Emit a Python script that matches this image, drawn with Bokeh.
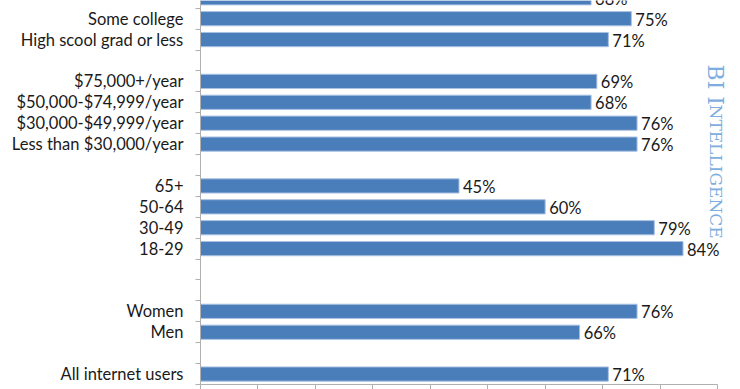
import math
from bokeh.plotting import figure
from bokeh.models import ColumnDataSource, FixedTicker, Label, Range1d
from bokeh.core.properties import value
from bokeh.embed import file_html
from bokeh.resources import INLINE

# Data (top to bottom as shown; empty strings are spacer rows)
categories = ["College+", "Some college", "High scool grad or less", "",
              "$75,000+/year", "$50,000-$74,999/year", "$30,000-$49,999/year",
              "Less than $30,000/year", "",
              "65+", "50-64", "30-49", "18-29", "", "",
              "Women", "Men", "", "All internet users"]
percent = [68, 75, 71, None, 69, 68, 76, 76, None, 45, 60, 79, 84, None, None,
           76, 66, None, 71]
x_ticks = [0, 10, 20, 30, 40, 50, 60, 70, 80, 90]

n = len(categories)
ypos = [n - i for i in range(n)]
bar_y = [y for y, v in zip(ypos, percent) if v is not None]
bar_v = [v for v in percent if v is not None]
bar_t = ["%d%%" % v for v in bar_v]
src = ColumnDataSource(dict(y=bar_y, v=bar_v, t=bar_t))

FONT = "Lato"
FS = "16.5px"
PX_PER_UNIT = 517 / 90.0
FRAME_W = 537
p = figure(frame_width=FRAME_W, frame_height=384, min_border_left=200,
           min_border_right=3, min_border_top=0, min_border_bottom=5,
           x_range=Range1d(0, FRAME_W / PX_PER_UNIT),
           y_range=Range1d(0.5, 18.87),
           output_backend="svg", toolbar_location=None)
p.outline_line_color = None
p.xgrid.grid_line_color = None
p.ygrid.grid_line_color = None
p.background_fill_color = "white"
p.border_fill_color = "white"

p.hbar(y="y", right="v", left=0, height=0.68, source=src,
       fill_color="#4a7ebb", line_color="#a9c1e2", line_width=1)
p.text(x="v", y="y", text="t", source=src, x_offset=4, y_offset=1,
       text_baseline="middle", text_align="left",
       text_font=value(FONT), text_font_size=FS, text_color="#1a1a1a")

# y axis: labels at centres, ticks between rows
label_pos = [y for y, c in zip(ypos, categories) if c]
p.yaxis.ticker = FixedTicker(ticks=label_pos,
                             minor_ticks=[k + 0.5 for k in range(n)])
p.yaxis.major_label_overrides = {y: c for y, c in zip(ypos, categories) if c}
p.yaxis.major_tick_line_color = None
p.yaxis.major_tick_out = 0
p.yaxis.major_tick_in = 0
p.yaxis.minor_tick_out = 5
p.yaxis.minor_tick_in = 0
p.yaxis.minor_tick_line_color = "#b0b0b0"
p.yaxis.axis_line_color = "#b0b0b0"
p.yaxis.major_label_standoff = 12
p.yaxis.major_label_text_font = FONT
p.yaxis.major_label_text_font_size = FS
p.yaxis.major_label_text_color = "#1a1a1a"

# x axis: ticks only (labels are below the visible area)
p.xaxis.ticker = FixedTicker(ticks=x_ticks)
p.xaxis.bounds = (x_ticks[0], x_ticks[-1])
p.xaxis.major_tick_out = 5
p.xaxis.major_tick_in = 0
p.xaxis.minor_tick_line_color = None
p.xaxis.major_tick_line_color = "#b0b0b0"
p.xaxis.axis_line_color = "#b0b0b0"
p.xaxis.major_label_standoff = 0
p.xaxis.major_label_text_font_size = "0px"
p.xaxis.major_label_text_color = None

# Watermark, rotated, pseudo small caps
wm_color = "#7eaee0"
slot = 384 / (18.87 - 0.5)
wm_x = (715 - 200) / PX_PER_UNIT
p.add_layout(Label(x=wm_x, y=0.5 + (384 - 64) / slot, text="BI I",
                   angle=-math.pi / 2, text_align="left",
                   text_baseline="middle", text_font="DejaVu Serif",
                   text_font_size="22px", text_color=wm_color))
p.add_layout(Label(x=wm_x, y=0.5 + (384 - 64 - 40) / slot,
                   text="NTELLIGENCE", angle=-math.pi / 2,
                   text_align="left", text_baseline="middle",
                   text_font="DejaVu Serif", text_font_size="17px",
                   text_color=wm_color))

open("out.html", "w").write(file_html(p, INLINE))
